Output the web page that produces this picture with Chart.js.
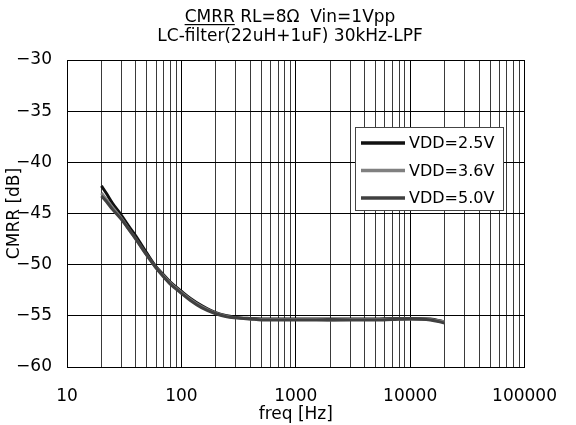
<!DOCTYPE html>
<html>
<head>
<meta charset="utf-8">
<script src="https://cdn.jsdelivr.net/npm/chart.js@4"></script>
<style>
html,body{margin:0;padding:0;background:#fff;}
canvas{display:block;}
</style>
</head>
<body>
<canvas id="c" width="576" height="425"></canvas>
<script>
const titleLine1Underlined = 'CMRR';
const titleLine1Rest = ' RL=8Ω  Vin=1Vpp';
const titleLine2 = 'LC-filter(22uH+1uF) 30kHz-LPF';
const xAxisTitle = 'freq [Hz]';
const yAxisTitle = 'CMRR [dB]';
const seriesLabels = ['VDD=2.5V', 'VDD=3.6V', 'VDD=5.0V'];

const freqs = [20, 22, 25, 30, 35, 40, 50, 60, 70, 80, 100, 120, 150, 200, 250, 300, 400, 500, 700, 1000, 1500, 2000, 3000, 5000, 7000, 10000, 15000, 20000];
const vdd25 = [-42.3, -43.0, -44.0, -45.2, -46.3, -47.2, -48.9, -50.2, -51.0, -51.7, -52.6, -53.3, -54.0, -54.7, -55.0, -55.15, -55.25, -55.3, -55.3, -55.3, -55.3, -55.3, -55.3, -55.3, -55.25, -55.25, -55.3, -55.6];
const vdd36 = [-43.0, -43.6, -44.4, -45.5, -46.6, -47.5, -49.1, -50.3, -51.1, -51.8, -52.7, -53.4, -54.1, -54.75, -55.05, -55.2, -55.3, -55.35, -55.35, -55.35, -55.35, -55.4, -55.35, -55.35, -55.3, -55.3, -55.35, -55.6];
const vdd50 = [-43.3, -43.8, -44.6, -45.6, -46.6, -47.5, -49.1, -50.3, -51.2, -51.9, -52.8, -53.5, -54.2, -54.8, -55.1, -55.2, -55.3, -55.4, -55.4, -55.4, -55.4, -55.4, -55.4, -55.4, -55.35, -55.3, -55.4, -55.7];

const xMin = 10, xMax = 100000;
const yMin = -60, yMax = -30, yStep = 5;

const FONT = "'DejaVu Sans', sans-serif";

function pts(vals) { return freqs.map((f, i) => ({x: f, y: vals[i]})); }

const titlePlugin = {
  id: 'titlePlugin',
  afterDraw(chart) {
    const ctx = chart.ctx;
    ctx.save();
    ctx.fillStyle = '#000';
    ctx.font = '17px ' + FONT;
    ctx.textBaseline = 'alphabetic';
    const cx = 290;
    const w1 = ctx.measureText(titleLine1Underlined).width;
    const w2 = ctx.measureText(titleLine1Rest).width;
    const x0 = cx - (w1 + w2) / 2;
    ctx.textAlign = 'left';
    ctx.fillText(titleLine1Underlined, x0, 22);
    ctx.fillText(titleLine1Rest, x0 + w1, 22);
    ctx.fillRect(x0, 24, w1, 1.2);
    ctx.textAlign = 'center';
    ctx.fillText(titleLine2, cx, 41);
    ctx.restore();
  }
};

const legendPlugin = {
  id: 'boxLegend',
  afterDatasetsDraw(chart) {
    const ctx = chart.ctx;
    const bx = 355.5, by = 127.5, bw = 148, bh = 83;
    ctx.save();
    ctx.fillStyle = '#fff';
    ctx.fillRect(bx, by, bw, bh);
    ctx.strokeStyle = '#444';
    ctx.lineWidth = 1;
    ctx.strokeRect(bx, by, bw, bh);
    ctx.font = '16px ' + FONT;
    ctx.textBaseline = 'middle';
    ctx.textAlign = 'left';
    chart.data.datasets.forEach((ds, i) => {
      const y = 143 + i * 27.5;
      ctx.strokeStyle = ds.borderColor;
      ctx.lineWidth = 3.5;
      ctx.beginPath();
      ctx.moveTo(361, y);
      ctx.lineTo(405, y);
      ctx.stroke();
      ctx.fillStyle = '#000';
      ctx.fillText(ds.label, 409, y + 1);
    });
    ctx.restore();
  }
};

new Chart(document.getElementById('c'), {
  type: 'line',
  data: {
    datasets: [
      {label: seriesLabels[0], data: pts(vdd25), borderColor: '#111111', borderWidth: 3, pointRadius: 0, cubicInterpolationMode: 'monotone', order: 3},
      {label: seriesLabels[1], data: pts(vdd36), borderColor: '#808080', borderWidth: 3, pointRadius: 0, cubicInterpolationMode: 'monotone', order: 2},
      {label: seriesLabels[2], data: pts(vdd50), borderColor: '#404040', borderWidth: 3, pointRadius: 0, cubicInterpolationMode: 'monotone', order: 1}
    ]
  },
  options: {
    responsive: false,
    animation: false,
    devicePixelRatio: 1,
    layout: {padding: {left: 0, right: 33, top: 60, bottom: 0}},
    plugins: {legend: {display: false}, tooltip: {enabled: false}, title: {display: false}},
    scales: {
      x: {
        type: 'logarithmic',
        min: xMin, max: xMax,
        afterBuildTicks(scale) {
          const t = [];
          for (let e = 1; e <= 4; e++) {
            for (let m = 1; m <= 9; m++) t.push({value: m * Math.pow(10, e)});
          }
          t.push({value: xMax});
          scale.ticks = t;
        },
        afterFit(scale) { scale.height = 58; },
        ticks: {
          autoSkip: false, maxRotation: 0, minRotation: 0, padding: 19,
          color: '#000', font: {family: FONT, size: 17},
          callback(v) {
            const l = Math.log10(v);
            return Math.abs(l - Math.round(l)) < 1e-9 ? String(Math.round(v)) : '';
          }
        },
        grid: {
          drawTicks: false,
          color(ctx) {
            const v = ctx.tick ? ctx.tick.value : 0;
            const l = Math.log10(v);
            return Math.abs(l - Math.round(l)) < 1e-9 ? '#000' : '#3a3a3a';
          },
          lineWidth: 1
        },
        border: {display: true, color: '#000', width: 1},
        title: {display: true, text: xAxisTitle, color: '#000', font: {family: FONT, size: 17}, padding: {top: 0, bottom: 0}}
      },
      y: {
        min: yMin, max: yMax,
        afterFit(scale) { scale.width = 67; },
        ticks: {
          stepSize: yStep, padding: 15,
          color: '#000', font: {family: FONT, size: 17},
          callback(v) { return v < 0 ? '\u2212' + Math.abs(v) : String(v); }
        },
        grid: {drawTicks: false, color: '#000', lineWidth: 1},
        border: {display: true, color: '#000', width: 1},
        title: {display: true, text: yAxisTitle, color: '#000', font: {family: FONT, size: 17}, padding: {top: 4, bottom: 0}}
      }
    }
  },
  plugins: [titlePlugin, legendPlugin]
});
</script>
</body>
</html>
